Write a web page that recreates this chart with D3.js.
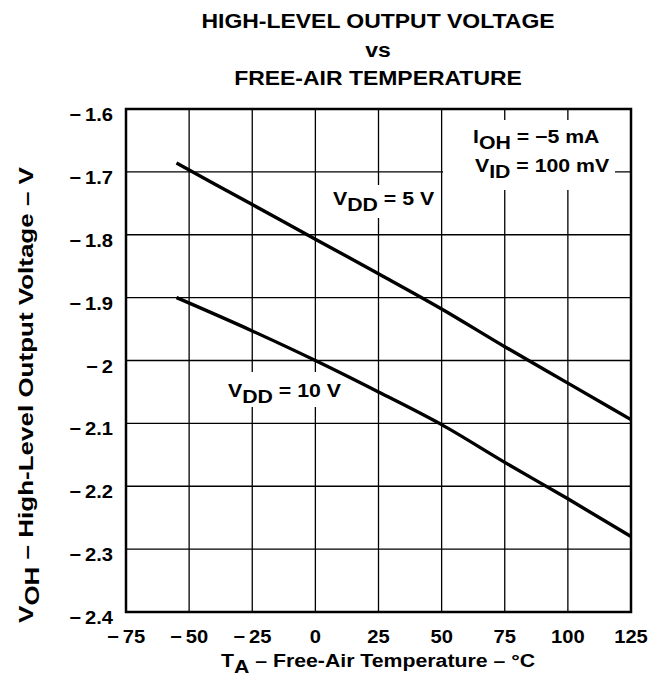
<!DOCTYPE html>
<html>
<head>
<meta charset="utf-8">
<script src="https://cdn.jsdelivr.net/npm/d3@7"></script>
<style>
  body { margin: 0; background: #fff; }
  text { font-family: "Liberation Sans", Arial, sans-serif; font-weight: bold; fill: #000; }
</style>
</head>
<body>
<script>
var width = 656,
    height = 679;

// data
var temps = [-55, -25, 0, 25, 50, 75, 100, 125];
var voh5 = [-1.686, -1.752, -1.807, -1.862, -1.918, -1.978, -2.036, -2.094];
var voh10 = [-1.90, -1.953, -2.0, -2.05, -2.102, -2.162, -2.220, -2.28];
var xTicks = [-75, -50, -25, 0, 25, 50, 75, 100, 125];
var yTicks = [-1.6, -1.7, -1.8, -1.9, -2, -2.1, -2.2, -2.3, -2.4];

var svg = d3.select("body").append("svg")
    .attr("width", width)
    .attr("height", height);

var x = d3.scaleLinear().domain([-75, 125]).range([126, 631]),
    y = d3.scaleLinear().domain([-1.6, -2.4]).range([109, 612]);

// text in the original is a bit wide, so stretch it sideways
var sx = 1.12;
var fmt = function(d) { return d < 0 ? "\u2212\u2009" + Math.abs(d) : String(d); };
var at = function(px, py, s, rot) {
  return "translate(" + px + "," + py + ")" + (rot ? " rotate(" + rot + ")" : "") + " scale(" + (s || sx) + ",1)";
};

// grid
svg.append("g")
  .selectAll("line")
  .data(xTicks)
  .enter().append("line")
  .attr("x1", function(d) { return x(d); })
  .attr("x2", function(d) { return x(d); })
  .attr("y1", y(-1.6))
  .attr("y2", y(-2.4))
  .attr("stroke", "#000")
  .attr("stroke-width", 1.3);

svg.append("g")
  .selectAll("line")
  .data(yTicks)
  .enter().append("line")
  .attr("x1", x(-75))
  .attr("x2", x(125))
  .attr("y1", function(d) { return y(d); })
  .attr("y2", function(d) { return y(d); })
  .attr("stroke", "#000")
  .attr("stroke-width", 1.3);

// white boxes behind the labels
var boxes = [[443, 120, 172, 70], [325, 185, 115, 33], [222, 372, 123, 35]];
svg.selectAll(".box")
  .data(boxes)
  .enter().append("rect")
  .attr("class", "box")
  .attr("x", function(d) { return d[0]; })
  .attr("y", function(d) { return d[1]; })
  .attr("width", function(d) { return d[2]; })
  .attr("height", function(d) { return d[3]; })
  .attr("fill", "#fff");

// frame
svg.append("rect")
  .attr("x", x(-75))
  .attr("y", y(-1.6))
  .attr("width", x(125) - x(-75))
  .attr("height", y(-2.4) - y(-1.6))
  .attr("fill", "none")
  .attr("stroke", "#000")
  .attr("stroke-width", 2.5);

// curves
var line = d3.line()
  .curve(d3.curveMonotoneX)
  .x(function(d) { return x(d[0]); })
  .y(function(d) { return y(d[1]); });

[voh5, voh10].forEach(function(s) {
  svg.append("path")
    .datum(temps.map(function(t, i) { return [t, s[i]]; }))
    .attr("d", line)
    .attr("fill", "none")
    .attr("stroke", "#000")
    .attr("stroke-width", 3.4);
});

// tick labels
svg.append("g")
  .selectAll("text")
  .data(yTicks)
  .enter().append("text")
  .attr("transform", function(d) { return at(113, y(d) + 12); })
  .attr("text-anchor", "end")
  .style("font-size", "18px")
  .text(fmt);

svg.append("g")
  .selectAll("text")
  .data(xTicks)
  .enter().append("text")
  .attr("transform", function(d) { return at(x(d), 643); })
  .attr("text-anchor", "middle")
  .style("font-size", "18px")
  .text(fmt);

// title
var title = ["HIGH-LEVEL OUTPUT VOLTAGE", "vs", "FREE-AIR TEMPERATURE"];
svg.append("g")
  .selectAll("text")
  .data(title)
  .enter().append("text")
  .attr("transform", function(d, i) { return at(378, 28 + i * 28.5); })
  .attr("text-anchor", "middle")
  .style("font-size", "20.5px")
  .text(function(d) { return d; });

// text with a subscript
function subText(g, parts, size) {
  var t = g.append("text").style("font-size", size + "px");
  parts.forEach(function(p, i) {
    t.append("tspan")
      .attr("dy", i === 0 ? 0 : (p[1] ? 6 : -6))
      .text(p[0]);
  });
  return t;
}

subText(svg, [["T", 0], ["A", 1], [" \u2013 Free-Air Temperature \u2013 \u00b0C", 0]], 19)
  .attr("text-anchor", "middle")
  .attr("transform", at(378, 667));

subText(svg, [["V", 0], ["OH", 1], [" \u2013 High-Level Output Voltage \u2013 V", 0]], 20)
  .attr("text-anchor", "middle")
  .attr("transform", at(33, 395, 1.3, -90));

subText(svg, [["I", 0], ["OH", 1], [" = \u22125 mA", 0]], 19)
  .attr("transform", at(473, 143));
subText(svg, [["V", 0], ["ID", 1], [" = 100 mV", 0]], 19)
  .attr("transform", at(475, 172));
subText(svg, [["V", 0], ["DD", 1], [" = 5 V", 0]], 19)
  .attr("transform", at(333, 205));
subText(svg, [["V", 0], ["DD", 1], [" = 10 V", 0]], 19)
  .attr("transform", at(228, 397));
</script>
</body>
</html>
